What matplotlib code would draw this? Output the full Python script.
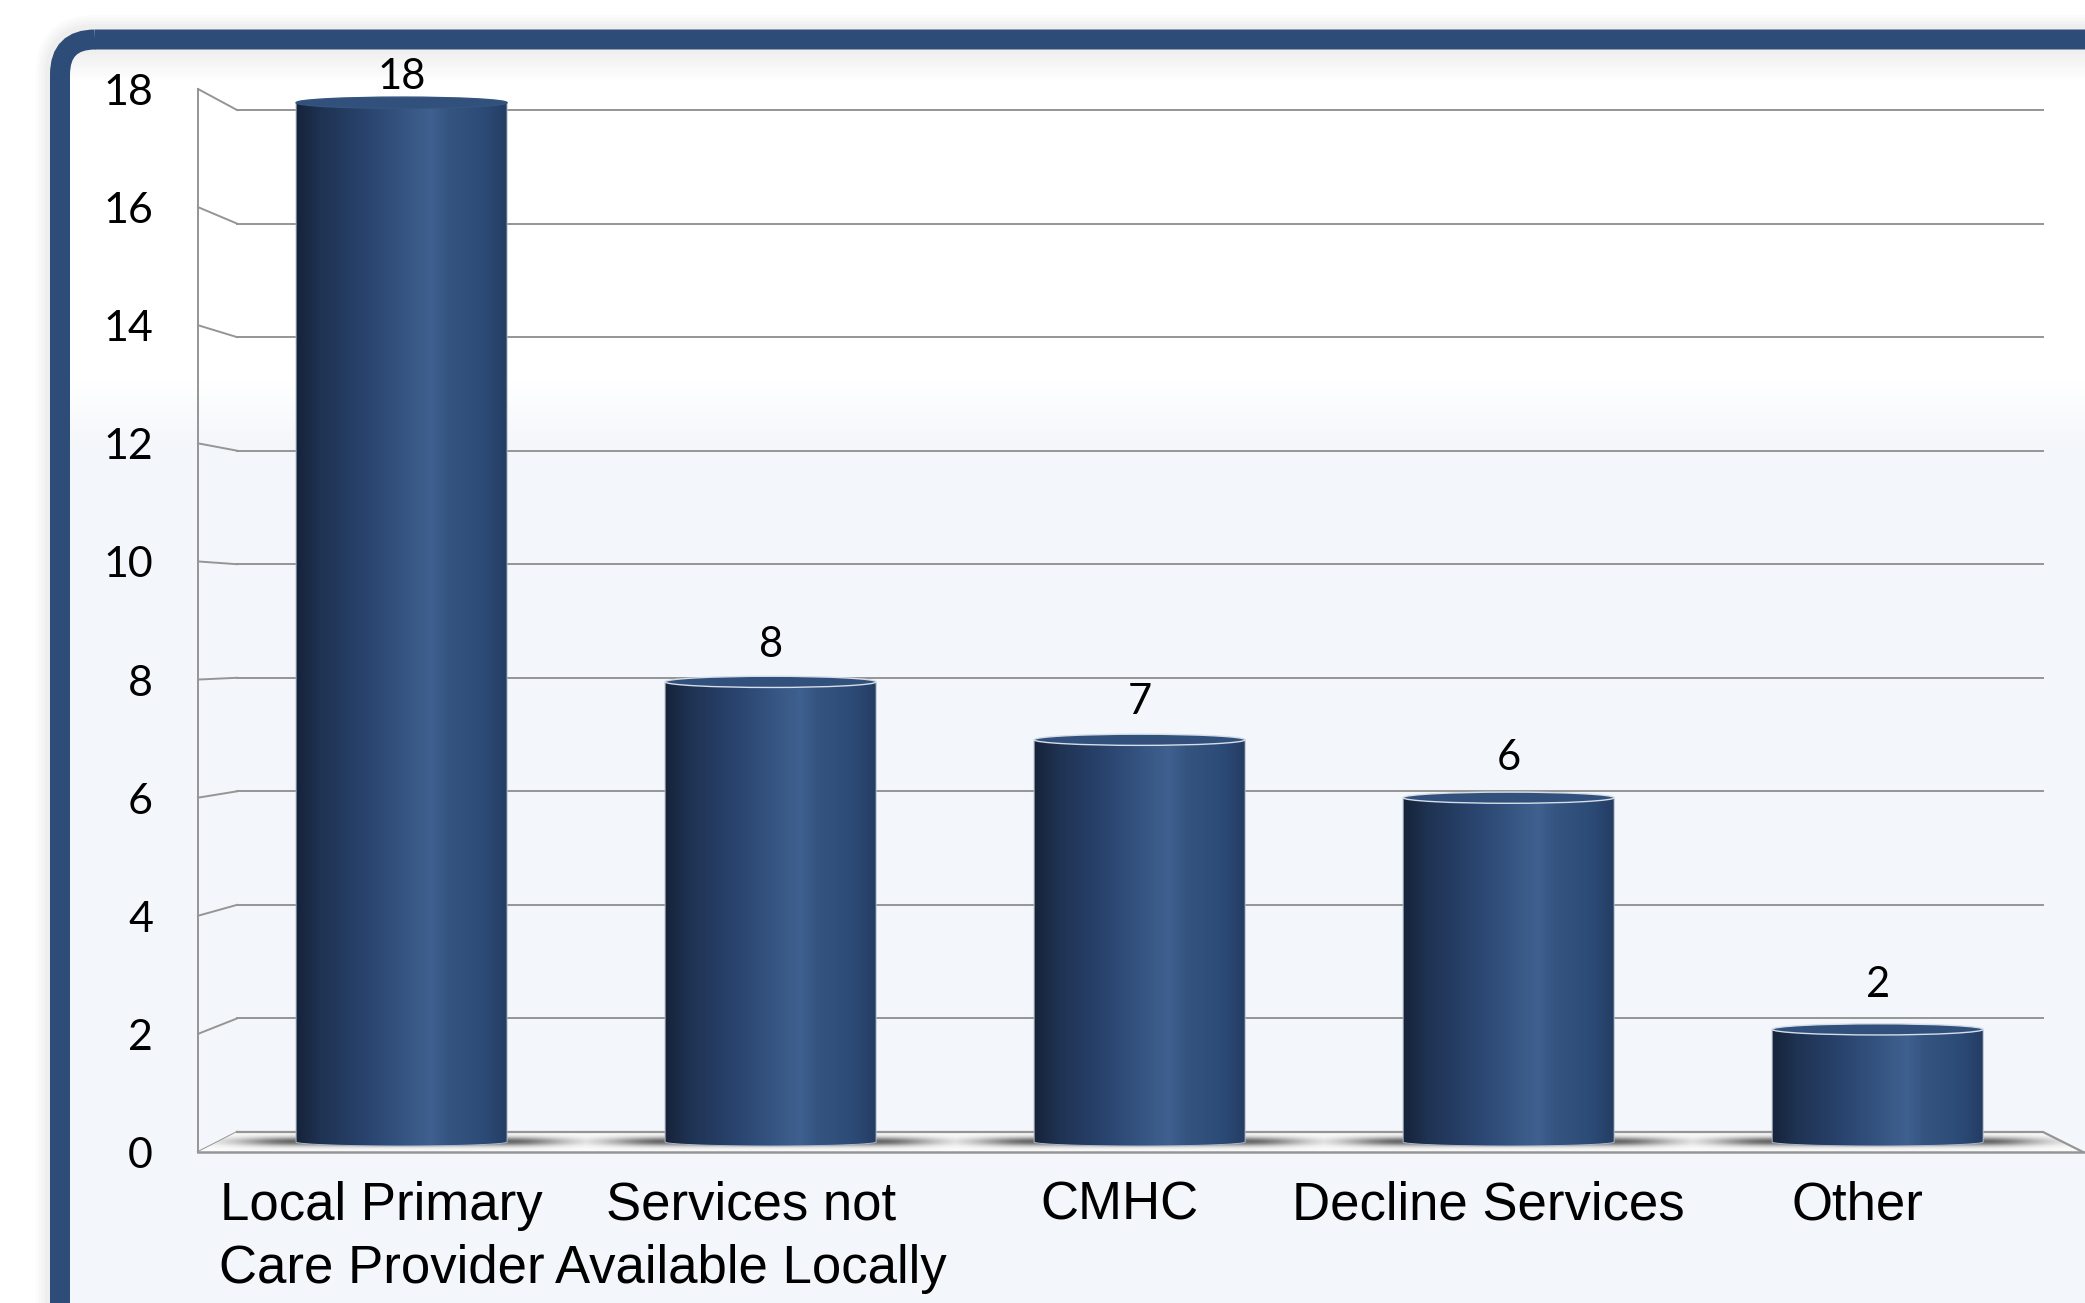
import matplotlib
matplotlib.use("Agg")
import matplotlib.pyplot as plt
import matplotlib.transforms as mtransforms
import numpy as np
from matplotlib.colors import LinearSegmentedColormap
from matplotlib.patches import FancyBboxPatch, Polygon, PathPatch, Ellipse
from matplotlib.path import Path

categories = ["Local Primary\nCare Provider", "Services not\nAvailable Locally",
              "CMHC", "Decline Services", "Other"]
values = [18, 8, 7, 6, 2]
yticks = [0, 2, 4, 6, 8, 10, 12, 14, 16, 18]

W, H = 2085, 1303
fig = plt.figure(figsize=(W / 100, H / 100), dpi=100)
fig.patch.set_facecolor("white")

# background / frame axes in pixel units
bg = fig.add_axes([0, 0, 1, 1])
bg.set_xlim(0, W)
bg.set_ylim(H, 0)
bg.axis("off")

# soft shadow round the frame
for k, a in enumerate([0.03, 0.03, 0.03, 0.04]):
    pad = 14 - 3 * k
    sh = FancyBboxPatch((60 - pad, 39 - pad), 2300, 1500,
                        boxstyle="round,pad=0,rounding_size=%d" % (35 + pad),
                        fc="none", ec="#808080", lw=14.4, alpha=a)
    bg.add_patch(sh)

frame = FancyBboxPatch((60, 39.5), 2300, 1500, boxstyle="round,pad=0,rounding_size=35",
                       fc="none", ec="#2d4c77", lw=14.4, zorder=5)
bg.add_patch(frame)

# inner fill: white on top, pale blue-grey further down
ys = np.linspace(0, H, 400)
col_top = np.array([1.0, 1.0, 1.0])
col_bot = np.array([0xf3, 0xf6, 0xfa]) / 255
t = np.clip((ys - 380) / 70, 0, 1)[:, None]
grad = col_top * (1 - t) + col_bot * t
shade = np.clip(1 - (ys - 50) / 30, 0, 1)[:, None] * 0.06
grad = grad - shade * (ys[:, None] > 40)
img = bg.imshow(grad[:, None, :], extent=(0, W, H, 0), aspect="auto", zorder=1)
clipper = FancyBboxPatch((60, 39.5), 2300, 1500, boxstyle="round,pad=0,rounding_size=35",
                         fc="none", ec="none", transform=bg.transData)
bg.add_patch(clipper)
img.set_clip_path(clipper)

# main chart axes = back wall of the 3D box
x0_px, x1_px, yb_px, yt_px = 237, 2043, 1132, 110
ax = fig.add_axes([x0_px / W, 1 - yb_px / H, (x1_px - x0_px) / W, (yb_px - yt_px) / H])
xmin, xmax = -0.446, 4.448
ax.set_xlim(xmin, xmax)
ax.set_ylim(0, 18)
ax.axis("off")
ax.patch.set_alpha(0)

ppx = (x1_px - x0_px) / (xmax - xmin)
ppy = (yb_px - yt_px) / 18.0
front_ppy = (1152 - 89) / 18.0
dxf = -39 / ppx


def depth_y(v, d):
    # value v seen at depth d (0 = back wall, 1 = front edge), in back-wall data units
    scale = ppy + d * (front_ppy - ppy)
    return (-20 * d + v * scale) / ppy


grid_col = "#959595"

# gridlines on back wall + slanted side wall lines
for v in yticks:
    ax.plot([xmin, xmax], [v, v], color=grid_col, lw=1.4, zorder=2, clip_on=False)
    ax.plot([xmin + dxf, xmin], [depth_y(v, 1), v], color=grid_col, lw=1.4, zorder=2,
            clip_on=False)
    ax.text(xmin + dxf - 45 / ppx, depth_y(v, 1), str(v), ha="right", va="center",
            fontsize=31, family="Lato", color="black",
            transform=ax.transData + mtransforms.Affine2D().translate(0, -4))
ax.plot([xmin + dxf, xmin + dxf], [depth_y(0, 1), depth_y(18, 1)], color=grid_col, lw=1.4,
        zorder=2, clip_on=False)

# floor
fy = depth_y(0, 1)
xr = xmax + 40 / ppx
floor = Polygon([(xmin, 0), (xmax, 0), (xr, fy), (xmin + dxf, fy)],
                closed=True, fc="#fbfbfc", ec="none", zorder=3, clip_on=False)
ax.add_patch(floor)

bw = 211 / ppx
eh = 8 / ppy
base = depth_y(0, 0.5)

# blurred shadow band on the floor, darkest next to each bar
sx = np.linspace(xmin + dxf, xr, 1400)
dist = np.min([np.maximum(0, np.abs(sx - i) - bw / 2) * ppx for i in range(len(values))],
              axis=0)
dark_x = np.exp(-(dist / 60.0) ** 2)
sy = np.linspace(0, 20, 60)
dark_y = np.exp(-((sy - 9.5) / 4.5) ** 2)
alpha = 0.85 * dark_y[:, None] * dark_x[None, :]
shadow = np.zeros((len(sy), len(sx), 4))
shadow[..., :3] = 0.3
shadow[..., 3] = alpha
sim = ax.imshow(shadow, extent=(sx[0], sx[-1], fy, 0), aspect="auto", zorder=3.5,
                interpolation="bilinear")
sim.set_clip_box(fig.bbox)
sim.set_clip_path(floor)

ax.plot([xmin, xmax, xr], [0, 0, fy], color=grid_col, lw=1.6, zorder=4, clip_on=False)
ax.plot([xmin + dxf, xmax + 60 / ppx], [fy, fy], color=grid_col, lw=1.8, zorder=4,
        clip_on=False)

# cylinders
cyl = LinearSegmentedColormap.from_list("cyl", [
    (0.0, "#16233a"), (0.12, "#1f3353"), (0.35, "#2a4570"), (0.58, "#3b5b88"),
    (0.64, "#3f6190"), (0.72, "#355581"), (0.9, "#2c4a76"), (1.0, "#243d63")])
row = cyl(np.linspace(0, 1, 256))[None, :, :3]

for i, v in enumerate(values):
    xa, xb = i - bw / 2, i + bw / 2
    tt = np.linspace(np.pi, 2 * np.pi, 60)
    bottom = np.column_stack([i + bw / 2 * np.cos(tt), base + eh / 2 * np.sin(tt)])
    top_y = depth_y(v, 0.5) - eh * 0.4
    verts = np.vstack([bottom, [[xb, top_y], [xa, top_y], bottom[0]]])
    body = PathPatch(Path(verts, closed=True), fc="none", ec="none", transform=ax.transData)
    ax.add_patch(body)
    im = ax.imshow(row, extent=(xa, xb, base - eh, top_y), aspect="auto", zorder=5,
                   interpolation="bilinear")
    im.set_clip_box(fig.bbox)
    im.set_clip_path(body)
    outline = PathPatch(Path(verts, closed=True), fc="none", ec="#aeb8c6", lw=0.7,
                        zorder=5.5, clip_on=False)
    ax.add_patch(outline)
    rim = "#35557f" if v > 10 else "#d5dde8"
    lid = Ellipse((i, top_y), bw, eh * 1.4, fc="#31507c", ec=rim, lw=1.0, zorder=6,
                  clip_on=False)
    ax.add_patch(lid)
    ax.text(i, v, str(v), ha="center", va="center", fontsize=30, family="Lato",
            color="black",
            transform=ax.transData + mtransforms.Affine2D().translate(0, 33))

for i, lab in enumerate(categories):
    ax.text(i - 20 / ppx, fy, lab, ha="center", va="top", fontsize=38,
            family="Liberation Sans", linespacing=1.33, color="black",
            transform=ax.transData + mtransforms.Affine2D().translate(0, -29))

bg.set_zorder(0)
ax.set_zorder(1)
fig.savefig("out.png", dpi=100)
